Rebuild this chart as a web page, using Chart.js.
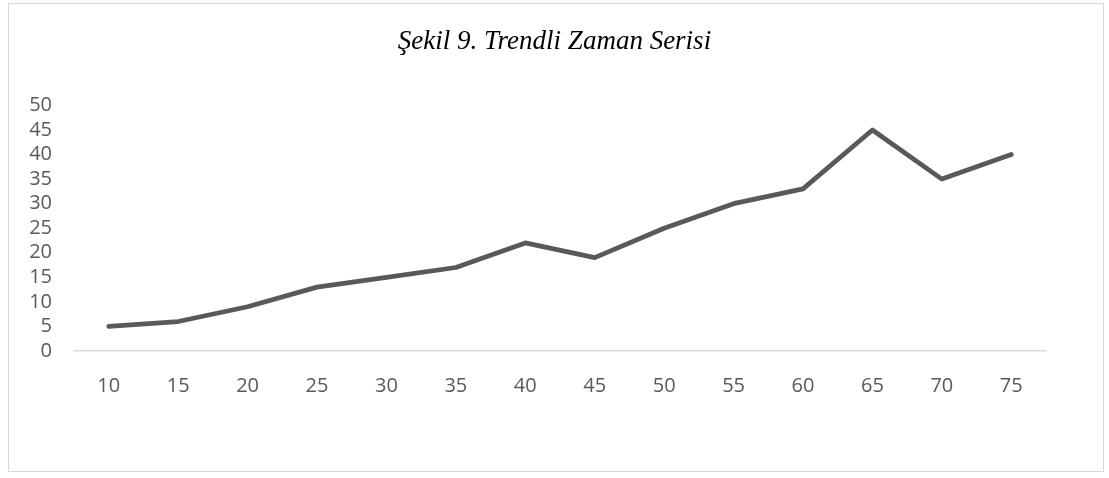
<!DOCTYPE html>
<html>
<head>
<meta charset="utf-8">
<script src="https://cdn.jsdelivr.net/npm/chart.js@4/dist/chart.umd.min.js"></script>
<style>
html,body{margin:0;padding:0;background:#fff;}
#frame{position:absolute;left:8px;top:3px;width:1094px;height:467px;border:1px solid #d9d9d9;}
#wrap{position:absolute;left:0;top:0;width:1109px;height:478px;}
</style>
</head>
<body>
<div id="frame"></div>
<div id="wrap"><canvas id="c" width="1109" height="478"></canvas></div>
<script>
const categories = ['10','15','20','25','30','35','40','45','50','55','60','65','70','75'];
const values = [5, 6, 9, 13, 15, 17, 22, 19, 25, 30, 33, 45, 35, 40];
const yTicks = [0,5,10,15,20,25,30,35,40,45,50];
const titleText = 'Şekil 9. Trendli Zaman Serisi';

new Chart(document.getElementById('c'), {
  type: 'line',
  data: {
    labels: categories,
    datasets: [{
      data: values,
      yAxisID: 'y',
      borderColor: '#595959',
      borderWidth: 4.75,
      borderCapStyle: 'round',
      borderJoinStyle: 'round',
      pointRadius: 0,
      tension: 0,
      fill: false
    }]
  },
  options: {
    responsive: false,
    animation: false,
    devicePixelRatio: 1,
    layout: { padding: 0 },
    plugins: {
      legend: { display: false },
      tooltip: { enabled: false },
      title: {
        display: true,
        text: titleText,
        color: '#000',
        font: { family: '"Liberation Serif", "Times New Roman", serif', size: 27, style: 'italic', weight: 'normal', lineHeight: 1.2 },
        padding: { top: 26, bottom: 47 }
      }
    },
    scales: {
      x: {
        offset: true,
        grid: { display: false, drawTicks: false },
        border: { display: true, color: '#d9d9d9', width: 1.5 },
        ticks: { color: '#595959', font: { family: '"Open Sans", "Noto Sans", sans-serif', size: 20 }, padding: 23, maxRotation: 0, autoSkip: false },
        afterFit: (s) => { s.height = 127; }
      },
      y: {
        position: 'left',
        min: 0, max: 50,
        afterBuildTicks: (s) => { s.ticks = yTicks.map(v => ({ value: v })); },
        grid: { display: false, drawTicks: false },
        border: { display: false },
        ticks: { color: '#595959', font: { family: '"Open Sans", "Noto Sans", sans-serif', size: 20, lineHeight: 1.0 }, padding: 22, autoSkip: false },
        afterFit: (s) => { s.width = 74; }
      },
      yRight: {
        position: 'right',
        min: 0, max: 50,
        grid: { display: false, drawTicks: false },
        border: { display: false },
        ticks: { display: false },
        afterFit: (s) => { s.width = 63; }
      }
    }
  }
});
</script>
</body>
</html>
